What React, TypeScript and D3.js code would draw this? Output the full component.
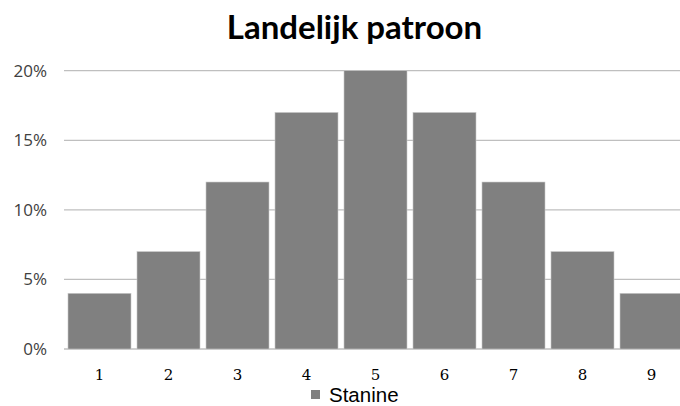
import React from "react";
import * as d3 from "d3";

const categories = ["1", "2", "3", "4", "5", "6", "7", "8", "9"];
const values = [4, 7, 12, 17, 20, 17, 12, 7, 4];
const yTicks = [0, 5, 10, 15, 20];
const seriesName = "Stanine";
const title = "Landelijk patroon";

export default function App() {
  const W = 680, H = 406;
  const x = d3.scaleBand<string>().domain(categories).range([65, 686]).paddingInner(0.087).paddingOuter(0.0435);
  const y = d3.scaleLinear().domain([0, 20]).range([349, 70.7]);
  return (
    <svg width={W} height={H} style={{ position: "absolute", left: 0, top: 0 }}>
      <rect width={W} height={H} fill="#fff" />
      <text x={354.5} y={39} textAnchor="middle" fontFamily="Lato, 'Open Sans', sans-serif" fontWeight="bold" fontSize={33} fill="#000">{title}</text>
      {yTicks.map((t) => (
        <g key={t}>
          <line x1={64} x2={680} y1={y(t)} y2={y(t)} stroke="#bfbfbf" strokeWidth={1.3} />
          <text x={47} y={y(t) + 6} textAnchor="end" fontFamily="'Open Sans', sans-serif" fontSize={17} fill="#404040">{t}%</text>
        </g>
      ))}
      {values.map((v, i) => (
        <rect key={i} x={x(categories[i])} y={y(v)} width={x.bandwidth()} height={y(0) - y(v)} fill="#808080" stroke="#c8c8c8" strokeWidth={0.6} />
      ))}
      {categories.map((c) => (
        <text key={c} x={(x(c) as number) + x.bandwidth() / 2} y={380} textAnchor="middle" fontFamily="'DejaVu Serif', serif" fontSize={15} fill="#000">{c}</text>
      ))}
      <rect x={311} y={390} width={9} height={9} fill="#808080" />
      <text x={329} y={401.5} fontFamily="'Liberation Sans', Arial, sans-serif" fontSize={20.5} fill="#000">{seriesName}</text>
    </svg>
  );
}
